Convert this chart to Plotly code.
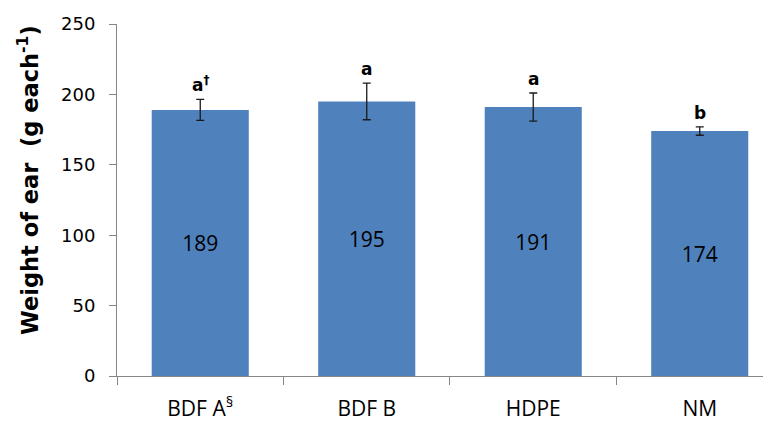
import plotly.graph_objects as go

categories = ["BDF A", "BDF B", "HDPE", "NM"]
tick_labels = ["BDF A<sup>§</sup>", "BDF B", "HDPE", "NM"]
values = [189, 195, 191, 174]
errors = [7.5, 13, 10, 3]
letters = ["a<sup>†</sup>", "a", "a", "b"]

fig = go.Figure()
fig.add_trace(go.Bar(
    x=categories, y=values,
    width=0.583,
    marker=dict(color="#4F81BD", line=dict(width=0)),
    error_y=dict(type="data", array=errors, color="#1a1a1a", thickness=1.3, width=4),
    text=[str(v) for v in values],
    textposition="inside", insidetextanchor="middle",
    textfont=dict(size=21, color="#000000", family="Open Sans"),
    showlegend=False,
))

for c, v, e, l in zip(categories, values, errors, letters):
    fig.add_annotation(x=c, y=v + e, text="<b>" + l + "</b>", showarrow=False,
                       yanchor="bottom", yshift=2,
                       font=dict(size=17, color="#000000", family="DejaVu Sans"))

fig.add_annotation(xref="paper", yref="paper", x=-0.136, y=0.557,
                   text="<b>Weight of ear  (g each<sup>-1</sup>)</b>",
                   textangle=-90, showarrow=False, xanchor="center", yanchor="middle",
                   font=dict(size=22.5, color="#000000", family="DejaVu Sans"))

fig.update_layout(
    width=763, height=414,
    margin=dict(l=109, r=0, t=16, b=46),
    plot_bgcolor="white", paper_bgcolor="white",
    font=dict(family="Open Sans", color="#000000"),
    xaxis=dict(
        type="category", range=[-0.5, 3.428],
        tickvals=categories, ticktext=tick_labels,
        tickson="boundaries", ticks="outside", ticklen=8, tickcolor="#868686",
        showline=True, linecolor="#868686", linewidth=1,
        tickfont=dict(size=21, color="#000000", family="Open Sans"),
        ticklabelstandoff=14,
        showgrid=False, automargin=False,
    ),
    yaxis=dict(
        range=[0, 250], dtick=50,
        ticks="outside", ticklen=7, tickcolor="#868686",
        showline=True, linecolor="#868686", linewidth=1,
        tickfont=dict(size=18, color="#000000", family="DejaVu Sans"),
        ticklabelstandoff=10,
        showgrid=False, zeroline=False, automargin=False,
    ),
)

fig.write_html("out.html")
